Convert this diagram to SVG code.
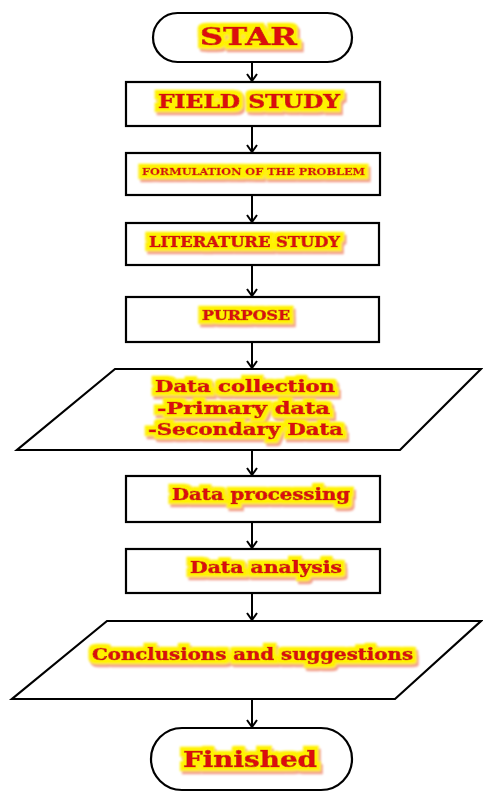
<svg xmlns="http://www.w3.org/2000/svg" width="483" height="794" viewBox="0 0 483 794">
<style>
.shape{fill:#fff;stroke:#000;stroke-width:2.2}
.lbl{font-family:"DejaVu Serif","Liberation Serif",serif;font-weight:bold;fill:#dd1010;stroke:#c80c0c;stroke-width:0.7;filter:url(#glow)}
.conn line{stroke:#000;stroke-width:2;fill:none}
</style>
<defs>
<filter id="glow" x="-20%" y="-70%" width="140%" height="240%">
<feMorphology in="SourceAlpha" operator="dilate" radius="4" result="d"/>
<feGaussianBlur in="d" stdDeviation="1.2" result="db"/>
<feOffset in="db" dx="2" dy="3" result="o"/>
<feFlood flood-color="#f2a08c"/>
<feComposite in2="o" operator="in" result="shadow"/>
<feFlood flood-color="#fff200"/>
<feComposite in2="db" operator="in" result="yellow"/>
<feMerge><feMergeNode in="shadow"/><feMergeNode in="yellow"/><feMergeNode in="SourceGraphic"/></feMerge>
</filter>
<marker id="arr" markerWidth="12" markerHeight="12" refX="10" refY="6" orient="auto" markerUnits="userSpaceOnUse" viewBox="0 0 12 12">
<polyline points="3,1 10,6 3,11" fill="none" stroke="#000" stroke-width="2"/>
</marker>
</defs>
<g class="conn">
<line x1="252" y1="62" x2="252" y2="81" marker-end="url(#arr)"/>
<line x1="252" y1="126" x2="252" y2="152" marker-end="url(#arr)"/>
<line x1="252" y1="195" x2="252" y2="222" marker-end="url(#arr)"/>
<line x1="252" y1="265" x2="252" y2="296" marker-end="url(#arr)"/>
<line x1="252" y1="342" x2="252" y2="368" marker-end="url(#arr)"/>
<line x1="252" y1="450" x2="252" y2="475" marker-end="url(#arr)"/>
<line x1="252" y1="522" x2="252" y2="548" marker-end="url(#arr)"/>
<line x1="252" y1="593" x2="252" y2="620" marker-end="url(#arr)"/>
<line x1="252" y1="699" x2="252" y2="727" marker-end="url(#arr)"/>
</g>
<g id="start">
<rect class="shape" x="153" y="13" width="199" height="49" rx="24.5"/>
<text class="lbl" x="200" y="45" font-size="25" textLength="97" lengthAdjust="spacingAndGlyphs">STAR</text>
</g>
<g id="field-study">
<rect class="shape" x="126" y="82" width="254" height="44"/>
<text class="lbl" x="158" y="108" font-size="18" textLength="182" lengthAdjust="spacingAndGlyphs">FIELD STUDY</text>
</g>
<g id="formulation">
<rect class="shape" x="126" y="153" width="254" height="42"/>
<text class="lbl" x="142" y="175" font-size="9.5" textLength="223" lengthAdjust="spacingAndGlyphs" style="stroke-width:0.4">FORMULATION OF THE PROBLEM</text>
</g>
<g id="literature">
<rect class="shape" x="126" y="223" width="253" height="42"/>
<text class="lbl" x="149" y="247" font-size="14" textLength="191" lengthAdjust="spacingAndGlyphs">LITERATURE STUDY</text>
</g>
<g id="purpose">
<rect class="shape" x="126" y="297" width="253" height="45"/>
<text class="lbl" x="202" y="320" font-size="13" textLength="88" lengthAdjust="spacingAndGlyphs">PURPOSE</text>
</g>
<g id="data-collection">
<polygon class="shape" points="115,369 481,369 400,450 17,450"/>
<text class="lbl" x="155" y="392" font-size="17" textLength="180" lengthAdjust="spacingAndGlyphs">Data collection</text>
<text class="lbl" x="157" y="414" font-size="17" textLength="173" lengthAdjust="spacingAndGlyphs">-Primary data</text>
<text class="lbl" x="148" y="435" font-size="17" textLength="195" lengthAdjust="spacingAndGlyphs">-Secondary Data</text>
</g>
<g id="data-processing">
<rect class="shape" x="126" y="476" width="254" height="46"/>
<text class="lbl" x="172" y="500" font-size="16" textLength="178" lengthAdjust="spacingAndGlyphs">Data processing</text>
</g>
<g id="data-analysis">
<rect class="shape" x="126" y="549" width="254" height="44"/>
<text class="lbl" x="190" y="573" font-size="16" textLength="152" lengthAdjust="spacingAndGlyphs">Data analysis</text>
</g>
<g id="conclusions">
<polygon class="shape" points="107,621 481,621 395,699 12,699"/>
<text class="lbl" x="92" y="660" font-size="16" textLength="321" lengthAdjust="spacingAndGlyphs">Conclusions and suggestions</text>
</g>
<g id="finished">
<rect class="shape" x="151" y="728" width="201" height="62" rx="31"/>
<text class="lbl" x="183" y="767" font-size="23" textLength="134" lengthAdjust="spacingAndGlyphs">Finished</text>
</g>
</svg>
